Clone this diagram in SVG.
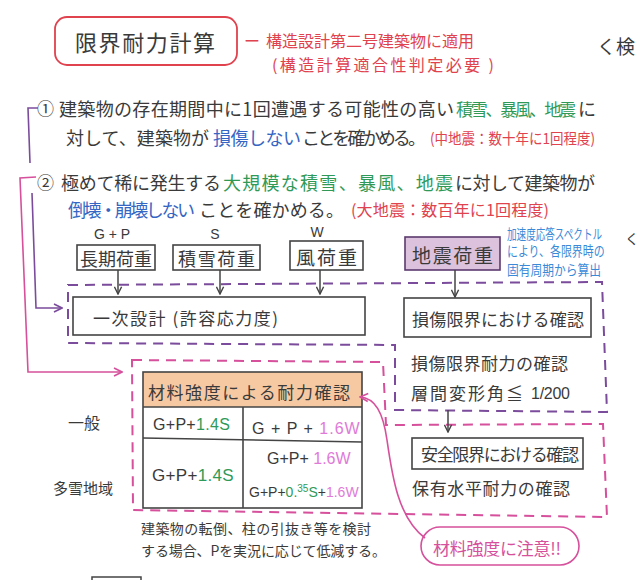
<svg xmlns="http://www.w3.org/2000/svg" width="640" height="580" viewBox="0 0 640 580">
<defs>
<style>
text{font-family:"Noto Sans CJK JP","Liberation Sans",sans-serif;dominant-baseline:central;fill:#3a3a3a}
.lat{font-family:"Liberation Sans","DejaVu Sans",sans-serif}
.g{fill:#2f9a57}
.b{fill:#3566c4}
.r{fill:#e0424e}
.m{fill:#d6509c}
.pk{fill:#e07ad8}
.bl{fill:#3a8ad8}
.box{fill:none;stroke:#444;stroke-width:1.6}
.pdash{fill:none;stroke:#7b4c9c;stroke-width:2;stroke-dasharray:10 7}
.mdash{fill:none;stroke:#d6509c;stroke-width:2;stroke-dasharray:10 7}
.arr{fill:none;stroke:#444;stroke-width:1.5}
</style>
<marker id="ah" viewBox="0 0 10 10" refX="9" refY="5" markerWidth="9" markerHeight="9" markerUnits="userSpaceOnUse" orient="auto"><path d="M1,1 L9,5 L1,9" fill="none" stroke="#444" stroke-width="1.6"/></marker>
<marker id="ahp" viewBox="0 0 10 10" refX="9" refY="5" markerWidth="10" markerHeight="10" markerUnits="userSpaceOnUse" orient="auto"><path d="M1,1 L9,5 L1,9" fill="none" stroke="#7b4c9c" stroke-width="1.6"/></marker>
<marker id="ahm" viewBox="0 0 10 10" refX="9" refY="5" markerWidth="10" markerHeight="10" markerUnits="userSpaceOnUse" orient="auto"><path d="M1,1 L9,5 L1,9" fill="none" stroke="#d6509c" stroke-width="1.6"/></marker>
</defs>
<rect width="640" height="580" fill="#ffffff"/>

<!-- title -->
<g id="title">
<rect x="55" y="17" width="182" height="48" rx="12" fill="none" stroke="#e0424e" stroke-width="1.8"/>
<text x="75" y="41" font-size="22" textLength="140">限界耐力計算</text>
</g>
<g id="title-note">
<text class="r" x="244" y="40" font-size="16">ー</text>
<text class="r" x="266" y="40" font-size="16" textLength="208">構造設計第二号建築物に適用</text>
<text class="r" x="272" y="64" font-size="16" textLength="222">(構造計算適合性判定必要 )</text>
</g>
<text x="597" y="45" font-size="19">く検</text>

<!-- statements -->
<g id="stmt1">
<text x="37" y="107" font-size="17">①</text>
<text x="59" y="108" font-size="18" textLength="395">建築物の存在期間中に1回遭遇する可能性の高い</text>
<text class="g" x="456" y="108" font-size="17" textLength="120">積雪、暴風、地震</text>
<text x="578" y="108" font-size="18">に</text>
<text x="66" y="137" font-size="18" textLength="143">対して、建築物が</text>
<text class="b" x="213" y="137" font-size="18" textLength="88">損傷しない</text>
<text x="302" y="137" font-size="18" textLength="124">ことを確かめる。</text>
<text class="r" x="430" y="137" font-size="15" textLength="165" lengthAdjust="spacingAndGlyphs">(中地震：数十年に1回程度)</text>
</g>
<g id="stmt2">
<text x="37" y="181" font-size="17">②</text>
<text x="61" y="182" font-size="18" textLength="160">極めて稀に発生する</text>
<text class="g" x="223" y="182" font-size="18" textLength="230">大規模な積雪、暴風、地震</text>
<text x="455" y="182" font-size="18" textLength="140">に対して建築物が</text>
<text class="b" x="68" y="209" font-size="18" textLength="127">倒壊・崩壊しない</text>
<text x="199" y="209" font-size="18" textLength="145">ことを確かめる。</text>
<text class="r" x="351" y="209" font-size="16" textLength="198">(大地震：数百年に1回程度)</text>
</g>

<!-- loads -->
<g id="load-longterm">
<text class="lat" x="112" y="234" font-size="14" text-anchor="middle">G + P</text>
<rect class="box" x="77" y="245" width="78" height="25"/>
<text x="80" y="258" font-size="18" textLength="72">長期荷重</text>
</g>
<g id="load-snow">
<text class="lat" x="215" y="234" font-size="14" text-anchor="middle">S</text>
<rect class="box" x="173" y="245" width="87" height="25"/>
<text x="178" y="258" font-size="18" textLength="77">積雪荷重</text>
</g>
<g id="load-wind">
<text class="lat" x="317" y="232" font-size="14" text-anchor="middle">W</text>
<rect class="box" x="290" y="241" width="73" height="29"/>
<text x="296" y="256" font-size="19" textLength="61">風荷重</text>
</g>
<g id="load-seismic">
<rect x="405" y="237" width="95" height="33" fill="#dcc2dd" stroke="#5b3a6e" stroke-width="1.6"/>
<text x="412" y="254" font-size="19" textLength="81">地震荷重</text>
</g>
<g id="spectrum-note">
<text class="bl" transform="translate(507,233) scale(0.71,1)" x="0" y="0" font-size="13.5">加速度応答スペクトル</text>
<text class="bl" transform="translate(507,251) scale(0.81,1)" x="0" y="0" font-size="13.5">により、各限界時の</text>
<text class="bl" transform="translate(507,269) scale(0.87,1)" x="0" y="0" font-size="13.5">固有周期から算出</text>
</g>
<text x="625" y="238" font-size="14">く</text>

<!-- regions -->
<g id="region-damage">
<path class="pdash" d="M68,285 L602,282 L607,412 L395,410 L395,345 L68,343 Z"/>
</g>
<g id="region-safety">
<path class="mdash" d="M132,360 L383,362 L386,425 L603,424 L607,517 L133,510 Z"/>
</g>

<g id="primary-design">
<rect class="box" x="73" y="297" width="292" height="38"/>
<text x="93" y="317" font-size="17" textLength="185">一次設計 (許容応力度)</text>
</g>
<g id="damage-check">
<rect class="box" x="404" y="298" width="187" height="39"/>
<text x="412" y="318" font-size="17" textLength="172">損傷限界における確認</text>
<text x="411" y="362" font-size="17" textLength="157">損傷限界耐力の確認</text>
<text x="411" y="392" font-size="17" textLength="112">層間変形角≦</text>
<text class="lat" x="531" y="393" font-size="16" textLength="39">1/200</text>
</g>
<g id="safety-check">
<rect class="box" x="412" y="438" width="171" height="31"/>
<text x="421" y="453" font-size="17" textLength="158">安全限界における確認</text>
<text x="412" y="487" font-size="17" textLength="158">保有水平耐力の確認</text>
</g>

<g id="strength-table">
<rect x="143" y="372" width="219" height="35" fill="#f6c9a2"/>
<rect class="box" x="143" y="372" width="219" height="136"/>
<line class="box" x1="143" y1="407" x2="362" y2="407"/>
<line class="box" x1="143" y1="438" x2="362" y2="442"/>
<line class="box" x1="243" y1="407" x2="243" y2="508"/>
<text x="148" y="391" font-size="17" textLength="202">材料強度による耐力確認</text>
<text class="lat" x="153" y="424" font-size="16" letter-spacing="0.3">G+P+<tspan class="g">1.4S</tspan></text>
<text class="lat" x="252" y="428" font-size="16" letter-spacing="1">G + P + <tspan class="pk">1.6W</tspan></text>
<text class="lat" x="267" y="458" font-size="16">G+P+ <tspan class="pk">1.6W</tspan></text>
<text class="lat" x="152" y="475" font-size="17" letter-spacing="0.3">G+P+<tspan class="g">1.4S</tspan></text>
<text class="lat" x="249" y="492" font-size="14">G+P+<tspan class="g">0.</tspan><tspan class="g" font-size="10" dy="-4">35</tspan><tspan class="g" dy="4">S</tspan>+<tspan class="pk">1.6W</tspan></text>
</g>
<text x="68" y="422" font-size="16" textLength="32">一般</text>
<text x="53" y="487" font-size="15" textLength="60">多雪地域</text>

<text x="141" y="528" font-size="14" textLength="230">建築物の転倒、柱の引抜き等を検討</text>
<text x="141" y="550" font-size="14" textLength="245">する場合、Pを実況に応じて低減する。</text>

<g id="material-note">
<rect x="421" y="527" width="158" height="38" rx="19" fill="none" stroke="#d6509c" stroke-width="1.6"/>
<text class="m" x="433" y="547" font-size="17" textLength="128">材料強度に注意!!</text>
</g>

<!-- connectors -->
<g id="connectors">
<path d="M38,108 L28,108 L30,163" fill="none" stroke="#7b4c9c" stroke-width="1.6"/>
<path d="M32,193 L36,308 L62,308" fill="none" stroke="#7b4c9c" stroke-width="1.6" marker-end="url(#ahp)"/>
<path d="M36,177 L20,178 L28,372 L122,372" fill="none" stroke="#d6509c" stroke-width="1.6" marker-end="url(#ahm)"/>
<line class="arr" x1="118" y1="270" x2="118" y2="294" marker-end="url(#ah)"/>
<line class="arr" x1="220" y1="270" x2="220" y2="294" marker-end="url(#ah)"/>
<line class="arr" x1="320" y1="270" x2="320" y2="294" marker-end="url(#ah)"/>
<line class="arr" x1="455" y1="270" x2="455" y2="297" marker-end="url(#ah)"/>
<line class="arr" x1="448" y1="410" x2="448" y2="432" marker-end="url(#ah)"/>
<path d="M425,538 C398,518 392,475 387,440 C383,412 375,398 360,397" fill="none" stroke="#d6509c" stroke-width="1.6" marker-end="url(#ahm)"/>
</g>
<path d="M92,580 L92,577 L141,577 L141,580" fill="none" stroke="#444" stroke-width="1.5"/>
</svg>
